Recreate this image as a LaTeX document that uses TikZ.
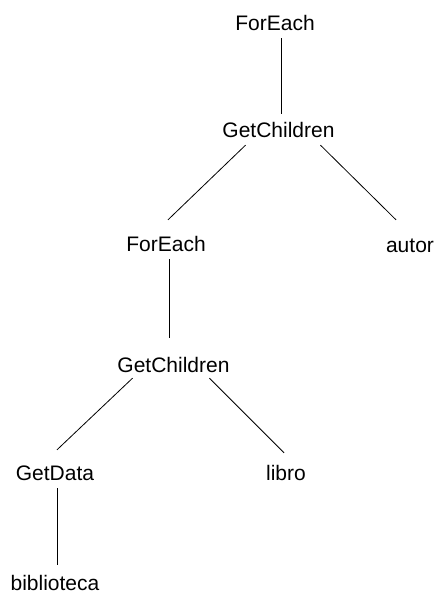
\documentclass[tikz,border=0pt]{standalone}
\usepackage{fontspec}
\setmainfont{Liberation Sans}

\begin{document}
\begin{tikzpicture}[x=1pt, y=-1pt, every node/.style={font=\fontsize{21}{25}\selectfont}, call/.style={anchor=base, inner xsep=0pt, inner ysep=8pt, text height=15pt, text depth=0pt}, link/.style={line width=0.8pt}]
	\useasboundingbox (0,0) rectangle (436,595);
	\node[call] (fe1) at (275,30) {ForEach};
	\node[call] (gc1) at (278.5,137) {GetChildren};
	\node[call] (fe2) at (166,251) {ForEach};
	\node[call] (autor) at (410,252) {autor};
	\node[call] (gc2) at (173.5,372) {GetChildren};
	\node[call] (gd) at (55,480) {GetData};
	\node[call] (libro) at (286,480) {libro};
	\node[call] (bib) at (55,590) {biblioteca};
	% tree edges
	\draw[link] ([xshift=6pt]fe1.south) -- ([xshift=2.5pt]gc1.north);
	\draw[link] ([xshift=-33pt]gc1.south) -- ([shift={(2pt,8pt)}]fe2.north);
	\draw[link] ([xshift=42pt]gc1.south) -- ([shift={(-14pt,9pt)}]autor.north);
	\draw[link] ([xshift=3pt]fe2.south) -- ([shift={(-4.5pt,11pt)}]gc2.north);
	\draw[link] ([shift={(-41pt,2pt)}]gc2.south) -- ([shift={(2pt,7pt)}]gd.north);
	\draw[link] ([shift={(36pt,2pt)}]gc2.south) -- ([shift={(-2pt,4pt)}]libro.north);
	\draw[link] ([xshift=2pt]gd.south) -- ([shift={(2pt,2pt)}]bib.north);
\end{tikzpicture}
\end{document}
